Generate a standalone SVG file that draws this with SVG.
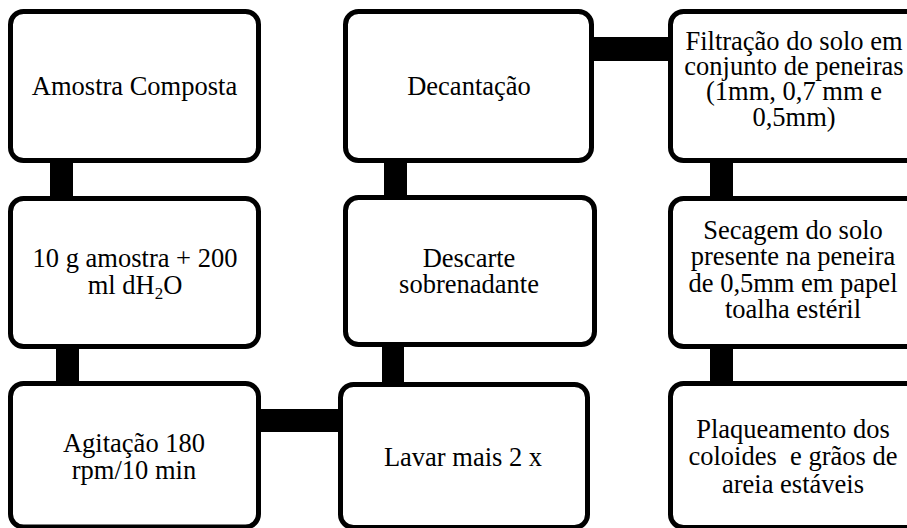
<svg xmlns="http://www.w3.org/2000/svg" width="907" height="528" viewBox="0 0 907 528">
<style>
.box{fill:#fff;stroke:#000;stroke-width:5}
.bar{fill:#000}
text{font-family:'Liberation Serif','DejaVu Serif',serif;font-size:26.5px;fill:#000;text-anchor:middle;white-space:pre}
</style>
<rect width="907" height="528" fill="#fff"/>
<g id="connectors">
<rect class="bar" x="50" y="160" width="23" height="40"/>
<rect class="bar" x="56" y="346" width="23" height="39"/>
<rect class="bar" x="258" y="409" width="84" height="23"/>
<rect class="bar" x="382" y="344" width="22" height="42"/>
<rect class="bar" x="384" y="160" width="23" height="39"/>
<rect class="bar" x="591" y="37" width="81" height="24"/>
<rect class="bar" x="710" y="160" width="23" height="40"/>
<rect class="bar" x="710" y="346" width="23" height="39"/>
</g>
<g id="n1">
<rect class="box" x="10.5" y="11.5" width="248" height="149" rx="13"/>
<text x="134.5" y="95">Amostra Composta</text>
</g>
<g id="n2">
<rect class="box" x="10.5" y="198.5" width="248" height="148" rx="13"/>
<text x="135" y="267">10 g amostra + 200</text>
<text x="135" y="294">ml dH<tspan font-size="17" dy="5">2</tspan><tspan dy="-5">O</tspan></text>
</g>
<g id="n3">
<rect class="box" x="10.5" y="383.5" width="248" height="143.5" rx="13"/>
<text x="134" y="452">Agitação 180</text>
<text x="134" y="479">rpm/10 min</text>
</g>
<g id="n4">
<rect class="box" x="345.5" y="11.5" width="246" height="149" rx="13"/>
<text x="469" y="95">Decantação</text>
</g>
<g id="n5">
<rect class="box" x="345.5" y="197.5" width="249" height="147" rx="13"/>
<text x="469" y="267">Descarte</text>
<text x="469" y="293">sobrenadante</text>
</g>
<g id="n6">
<rect class="box" x="340.5" y="384.5" width="247" height="143" rx="13"/>
<text x="463" y="466">Lavar mais 2 x</text>
</g>
<g id="n7">
<rect class="box" x="670.5" y="11.5" width="260" height="149" rx="13"/>
<text x="794" y="50">Filtração do solo em</text>
<text x="794" y="75">conjunto de peneiras</text>
<text x="794" y="100">(1mm, 0,7 mm e</text>
<text x="794" y="126">0,5mm)</text>
</g>
<g id="n8">
<rect class="box" x="670.5" y="198.5" width="260" height="148" rx="13"/>
<text x="793" y="239">Secagem do solo</text>
<text x="793" y="265">presente na peneira</text>
<text x="793" y="292">de 0,5mm em papel</text>
<text x="793" y="318">toalha estéril</text>
</g>
<g id="n9">
<rect class="box" x="670.5" y="383.5" width="260" height="144" rx="13"/>
<text x="793" y="438">Plaqueamento dos</text>
<text x="793" y="465">coloides  e grãos de</text>
<text x="793" y="493">areia estáveis</text>
</g>
</svg>
